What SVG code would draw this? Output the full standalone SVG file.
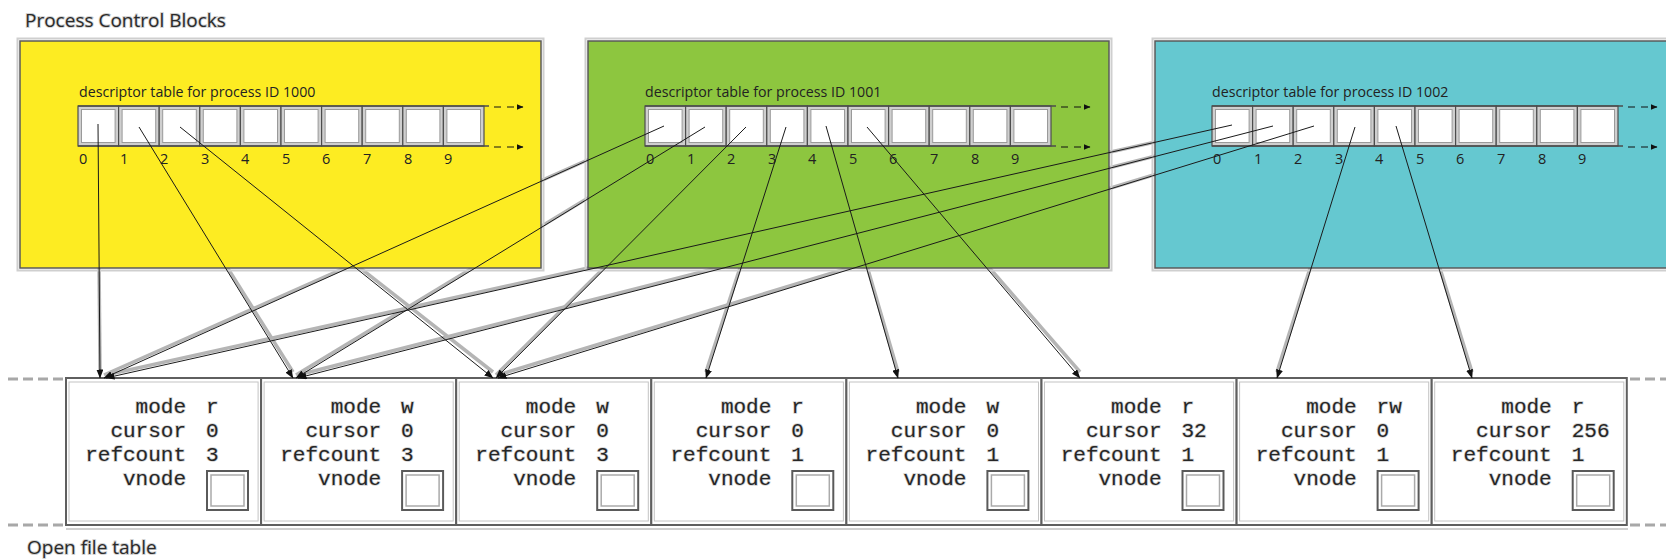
<svg xmlns="http://www.w3.org/2000/svg" xmlns:xlink="http://www.w3.org/1999/xlink" width="1666" height="559" viewBox="0 0 1666 559">
<style>
.title{font-family:"Open Sans","Liberation Sans",sans-serif;font-size:19px;fill:#2a2a2a;stroke:#d2d2d2;stroke-width:1.8;paint-order:stroke}
.lbl{font-family:"Open Sans","Liberation Sans",sans-serif;font-size:14.2px;fill:#222}
.dig{font-family:"Open Sans","Liberation Sans",sans-serif;font-size:14.5px;fill:#222}
.mono{font-family:"Liberation Mono","DejaVu Sans Mono",monospace;font-size:21px;fill:#262626;stroke:#d0d0d0;stroke-width:1.5;paint-order:stroke}
.k{text-anchor:end}
.pcb{stroke:#5a5a5a;stroke-width:1.5}
.halo{fill:none;stroke:#cfcfcf;stroke-width:2}
.rowline{stroke:#4d4d4d;stroke-width:1.3}
.dash{stroke:#111;stroke-width:1;stroke-dasharray:7 6;fill:none}
.conn{stroke:#1a1a1a;stroke-width:1;fill:none}
.connhalo{stroke:#b5b5b5;stroke-width:3.5;fill:none}
.entry{fill:#fff;stroke:#5f5f5f;stroke-width:2}
.entryin{fill:none;stroke:#c4c4c4;stroke-width:1}
.vn{fill:#fff;stroke:#5a5a5a;stroke-width:2}
.vnin{fill:none;stroke:#aaa;stroke-width:1.5}
.side{stroke:#a8a8a8;stroke-width:3;stroke-dasharray:10 5;fill:none}
</style>
<defs>
<marker id="ah" markerWidth="9" markerHeight="7" refX="8.5" refY="3.5" orient="auto" markerUnits="userSpaceOnUse">
<path d="M0,0 L9,3.5 L0,7 Z" fill="#111"/>
</marker>
<marker id="sah" markerWidth="7" markerHeight="6" refX="6.5" refY="3" orient="auto" markerUnits="userSpaceOnUse">
<path d="M0,0 L7,3 L0,6 Z" fill="#111"/>
</marker>
<g id="cell">
<rect x="0" y="0" width="40.6" height="40" fill="#cfcfcf" stroke="#4d4d4d" stroke-width="1.2"/>
<rect x="3.5" y="3.5" width="33.6" height="33" fill="#fff" stroke="#9a9a9a" stroke-width="1"/>
</g>
<g id="row">
<use xlink:href="#cell" x="0"/><use xlink:href="#cell" x="40.6"/><use xlink:href="#cell" x="81.2"/><use xlink:href="#cell" x="121.8"/><use xlink:href="#cell" x="162.4"/>
<use xlink:href="#cell" x="203"/><use xlink:href="#cell" x="243.6"/><use xlink:href="#cell" x="284.2"/><use xlink:href="#cell" x="324.8"/><use xlink:href="#cell" x="365.4"/>
<line class="rowline" x1="0" y1="0" x2="411" y2="0"/>
<line class="rowline" x1="0" y1="40" x2="411" y2="40"/>
<line class="dash" x1="416" y1="1" x2="445" y2="1" marker-end="url(#sah)"/>
<line class="dash" x1="416" y1="41" x2="445" y2="41" marker-end="url(#sah)"/>
<text class="dig" x="1" y="58">0</text><text class="dig" x="42" y="58">1</text><text class="dig" x="82" y="58">2</text><text class="dig" x="123" y="58">3</text><text class="dig" x="163" y="58">4</text>
<text class="dig" x="204" y="58">5</text><text class="dig" x="244" y="58">6</text><text class="dig" x="285" y="58">7</text><text class="dig" x="326" y="58">8</text><text class="dig" x="366" y="58">9</text>
</g>
<g id="vnode">
<rect class="vn" x="0" y="0" width="41" height="39"/>
<rect class="vnin" x="4" y="4" width="33" height="31"/>
</g>
</defs>

<rect width="1666" height="559" fill="#fff"/>

<text class="title" x="25" y="27">Process Control Blocks</text>
<text class="title" x="27" y="554">Open file table</text>

<g id="connector-halo">
<line class="connhalo" x1="98" y1="150" x2="100" y2="370"/>
<line class="connhalo" x1="139" y1="127" x2="293" y2="372"/>
<line class="connhalo" x1="180" y1="127" x2="493" y2="372"/>
<line class="connhalo" x1="664" y1="126" x2="104" y2="375"/>
<line class="connhalo" x1="705" y1="127" x2="296" y2="375"/>
<line class="connhalo" x1="746" y1="127" x2="496" y2="375"/>
<line class="connhalo" x1="786" y1="127" x2="706" y2="372"/>
<line class="connhalo" x1="826" y1="126" x2="898" y2="372"/>
<line class="connhalo" x1="867" y1="127" x2="1080" y2="372"/>
<line class="connhalo" x1="1232" y1="125" x2="106" y2="375"/>
<line class="connhalo" x1="1273" y1="126" x2="298" y2="375"/>
<line class="connhalo" x1="1314" y1="126" x2="498" y2="375"/>
<line class="connhalo" x1="1355" y1="127" x2="1277" y2="372"/>
<line class="connhalo" x1="1396" y1="126" x2="1472" y2="372"/>
</g>

<g id="pcb-1000">
<rect class="halo" x="17.5" y="38.5" width="526" height="232"/>
<rect class="pcb" x="20" y="41" width="521" height="227" fill="#FDEC22"/>
<text class="lbl" x="79" y="97">descriptor table for process ID 1000</text>
<use xlink:href="#row" x="78" y="106"/>
</g>
<g id="pcb-1001">
<rect class="halo" x="585.5" y="38.5" width="526" height="232"/>
<rect class="pcb" x="588" y="41" width="521" height="227" fill="#8DC63F"/>
<text class="lbl" x="645" y="97">descriptor table for process ID 1001</text>
<use xlink:href="#row" x="645" y="106"/>
</g>
<g id="pcb-1002">
<rect class="halo" x="1152.5" y="38.5" width="540" height="232"/>
<rect class="pcb" x="1155" y="41" width="540" height="227" fill="#65C8D0"/>
<text class="lbl" x="1212" y="97">descriptor table for process ID 1002</text>
<use xlink:href="#row" x="1212" y="106"/>
</g>

<g id="open-file-table">
<line class="side" x1="8" y1="379" x2="64" y2="379"/>
<line class="side" x1="8" y1="525" x2="64" y2="525"/>
<line class="side" x1="1630" y1="379" x2="1666" y2="379"/>
<line class="side" x1="1630" y1="525" x2="1666" y2="525"/>
<line x1="66" y1="529" x2="1628" y2="529" stroke="#d0d0d0" stroke-width="2"/>
</g>

<g id="entry-1" transform="translate(66,0)">
<rect class="entry" x="0" y="378" width="195.1" height="147"/><rect class="entryin" x="3" y="382" width="189.1" height="139"/>
<text class="mono k" x="120" y="413">mode</text><text class="mono" x="140" y="413">r</text>
<text class="mono k" x="120" y="437">cursor</text><text class="mono" x="140" y="437">0</text>
<text class="mono k" x="120" y="461">refcount</text><text class="mono" x="140" y="461">3</text>
<text class="mono k" x="120" y="485">vnode</text><use xlink:href="#vnode" x="141" y="471"/>
</g>
<g id="entry-2" transform="translate(261.1,0)">
<rect class="entry" x="0" y="378" width="195.1" height="147"/><rect class="entryin" x="3" y="382" width="189.1" height="139"/>
<text class="mono k" x="120" y="413">mode</text><text class="mono" x="140" y="413">w</text>
<text class="mono k" x="120" y="437">cursor</text><text class="mono" x="140" y="437">0</text>
<text class="mono k" x="120" y="461">refcount</text><text class="mono" x="140" y="461">3</text>
<text class="mono k" x="120" y="485">vnode</text><use xlink:href="#vnode" x="141" y="471"/>
</g>
<g id="entry-3" transform="translate(456.2,0)">
<rect class="entry" x="0" y="378" width="195.1" height="147"/><rect class="entryin" x="3" y="382" width="189.1" height="139"/>
<text class="mono k" x="120" y="413">mode</text><text class="mono" x="140" y="413">w</text>
<text class="mono k" x="120" y="437">cursor</text><text class="mono" x="140" y="437">0</text>
<text class="mono k" x="120" y="461">refcount</text><text class="mono" x="140" y="461">3</text>
<text class="mono k" x="120" y="485">vnode</text><use xlink:href="#vnode" x="141" y="471"/>
</g>
<g id="entry-4" transform="translate(651.3,0)">
<rect class="entry" x="0" y="378" width="195.1" height="147"/><rect class="entryin" x="3" y="382" width="189.1" height="139"/>
<text class="mono k" x="120" y="413">mode</text><text class="mono" x="140" y="413">r</text>
<text class="mono k" x="120" y="437">cursor</text><text class="mono" x="140" y="437">0</text>
<text class="mono k" x="120" y="461">refcount</text><text class="mono" x="140" y="461">1</text>
<text class="mono k" x="120" y="485">vnode</text><use xlink:href="#vnode" x="141" y="471"/>
</g>
<g id="entry-5" transform="translate(846.4,0)">
<rect class="entry" x="0" y="378" width="195.1" height="147"/><rect class="entryin" x="3" y="382" width="189.1" height="139"/>
<text class="mono k" x="120" y="413">mode</text><text class="mono" x="140" y="413">w</text>
<text class="mono k" x="120" y="437">cursor</text><text class="mono" x="140" y="437">0</text>
<text class="mono k" x="120" y="461">refcount</text><text class="mono" x="140" y="461">1</text>
<text class="mono k" x="120" y="485">vnode</text><use xlink:href="#vnode" x="141" y="471"/>
</g>
<g id="entry-6" transform="translate(1041.5,0)">
<rect class="entry" x="0" y="378" width="195.1" height="147"/><rect class="entryin" x="3" y="382" width="189.1" height="139"/>
<text class="mono k" x="120" y="413">mode</text><text class="mono" x="140" y="413">r</text>
<text class="mono k" x="120" y="437">cursor</text><text class="mono" x="140" y="437">32</text>
<text class="mono k" x="120" y="461">refcount</text><text class="mono" x="140" y="461">1</text>
<text class="mono k" x="120" y="485">vnode</text><use xlink:href="#vnode" x="141" y="471"/>
</g>
<g id="entry-7" transform="translate(1236.6,0)">
<rect class="entry" x="0" y="378" width="195.1" height="147"/><rect class="entryin" x="3" y="382" width="189.1" height="139"/>
<text class="mono k" x="120" y="413">mode</text><text class="mono" x="140" y="413">rw</text>
<text class="mono k" x="120" y="437">cursor</text><text class="mono" x="140" y="437">0</text>
<text class="mono k" x="120" y="461">refcount</text><text class="mono" x="140" y="461">1</text>
<text class="mono k" x="120" y="485">vnode</text><use xlink:href="#vnode" x="141" y="471"/>
</g>
<g id="entry-8" transform="translate(1431.7,0)">
<rect class="entry" x="0" y="378" width="195.1" height="147"/><rect class="entryin" x="3" y="382" width="189.1" height="139"/>
<text class="mono k" x="120" y="413">mode</text><text class="mono" x="140" y="413">r</text>
<text class="mono k" x="120" y="437">cursor</text><text class="mono" x="140" y="437">256</text>
<text class="mono k" x="120" y="461">refcount</text><text class="mono" x="140" y="461">1</text>
<text class="mono k" x="120" y="485">vnode</text><use xlink:href="#vnode" x="141" y="471"/>
</g>

<g id="connectors">
<line class="conn" x1="98" y1="124" x2="100" y2="378" marker-end="url(#ah)"/>
<line class="conn" x1="139" y1="127" x2="293" y2="378" marker-end="url(#ah)"/>
<line class="conn" x1="180" y1="127" x2="493" y2="378" marker-end="url(#ah)"/>
<line class="conn" x1="664" y1="126" x2="104" y2="378" marker-end="url(#ah)"/>
<line class="conn" x1="705" y1="127" x2="296" y2="378" marker-end="url(#ah)"/>
<line class="conn" x1="746" y1="127" x2="496" y2="378" marker-end="url(#ah)"/>
<line class="conn" x1="786" y1="127" x2="706" y2="378" marker-end="url(#ah)"/>
<line class="conn" x1="826" y1="126" x2="898" y2="378" marker-end="url(#ah)"/>
<line class="conn" x1="867" y1="127" x2="1080" y2="378" marker-end="url(#ah)"/>
<line class="conn" x1="1232" y1="125" x2="106" y2="378" marker-end="url(#ah)"/>
<line class="conn" x1="1273" y1="126" x2="298" y2="378" marker-end="url(#ah)"/>
<line class="conn" x1="1314" y1="126" x2="498" y2="378" marker-end="url(#ah)"/>
<line class="conn" x1="1355" y1="127" x2="1277" y2="378" marker-end="url(#ah)"/>
<line class="conn" x1="1396" y1="126" x2="1472" y2="378" marker-end="url(#ah)"/>
</g>
</svg>
